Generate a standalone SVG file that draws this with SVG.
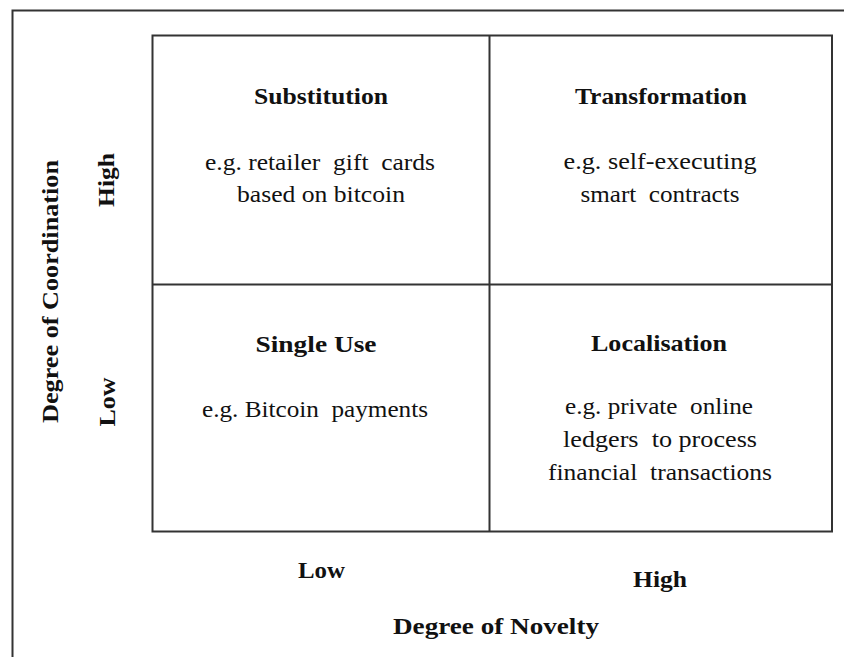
<svg xmlns="http://www.w3.org/2000/svg" width="844" height="657" viewBox="0 0 844 657">
<style>
.ln{fill:none;stroke:#333;stroke-width:2}
.t{font-family:"Liberation Serif","Times New Roman",serif;font-size:24px;fill:#111;text-anchor:middle}
.b{font-weight:bold}
</style>
<rect width="844" height="657" fill="#fff"/>
<path class="ln" d="M844,10.5 H12.5 V657"/>
<g id="grid">
<rect class="ln" x="152.5" y="35.5" width="679.5" height="496"/>
<line class="ln" x1="489.5" y1="35.5" x2="489.5" y2="531.5"/>
<line class="ln" x1="152.5" y1="284.5" x2="832" y2="284.5"/>
</g>
<g id="substitution">
<text class="t b" x="321" y="104" textLength="134" lengthAdjust="spacingAndGlyphs">Substitution</text>
<text class="t" x="320" y="170" textLength="230" lengthAdjust="spacingAndGlyphs" xml:space="preserve">e.g. retailer  gift  cards</text>
<text class="t" x="321" y="202" textLength="168" lengthAdjust="spacingAndGlyphs">based on bitcoin</text>
</g>
<g id="transformation">
<text class="t b" x="661" y="104" textLength="172" lengthAdjust="spacingAndGlyphs">Transformation</text>
<text class="t" x="660" y="169" textLength="193" lengthAdjust="spacingAndGlyphs">e.g. self-executing</text>
<text class="t" x="660" y="202" textLength="159" lengthAdjust="spacingAndGlyphs" xml:space="preserve">smart  contracts</text>
</g>
<g id="single-use">
<text class="t b" x="316" y="352" textLength="121" lengthAdjust="spacingAndGlyphs">Single Use</text>
<text class="t" x="315" y="417" textLength="226" lengthAdjust="spacingAndGlyphs" xml:space="preserve">e.g. Bitcoin  payments</text>
</g>
<g id="localisation">
<text class="t b" x="659" y="351" textLength="136" lengthAdjust="spacingAndGlyphs">Localisation</text>
<text class="t" x="659" y="414" textLength="188" lengthAdjust="spacingAndGlyphs" xml:space="preserve">e.g. private  online</text>
<text class="t" x="660" y="447" textLength="194" lengthAdjust="spacingAndGlyphs" xml:space="preserve">ledgers  to process</text>
<text class="t" x="660" y="480" textLength="224" lengthAdjust="spacingAndGlyphs" xml:space="preserve">financial  transactions</text>
</g>
<g id="axes">
<text class="t b" transform="translate(58,291.5) rotate(-90)" x="0" y="0" textLength="263" lengthAdjust="spacingAndGlyphs">Degree of Coordination</text>
<text class="t b" transform="translate(114,180) rotate(-90)" x="0" y="0" textLength="54" lengthAdjust="spacingAndGlyphs">High</text>
<text class="t b" transform="translate(115,402) rotate(-90)" x="0" y="0" textLength="49" lengthAdjust="spacingAndGlyphs">Low</text>
<text class="t b" x="321.5" y="578" textLength="47" lengthAdjust="spacingAndGlyphs">Low</text>
<text class="t b" x="660" y="587" textLength="54" lengthAdjust="spacingAndGlyphs">High</text>
<text class="t b" x="496" y="634" textLength="206" lengthAdjust="spacingAndGlyphs">Degree of Novelty</text>
</g>
</svg>
